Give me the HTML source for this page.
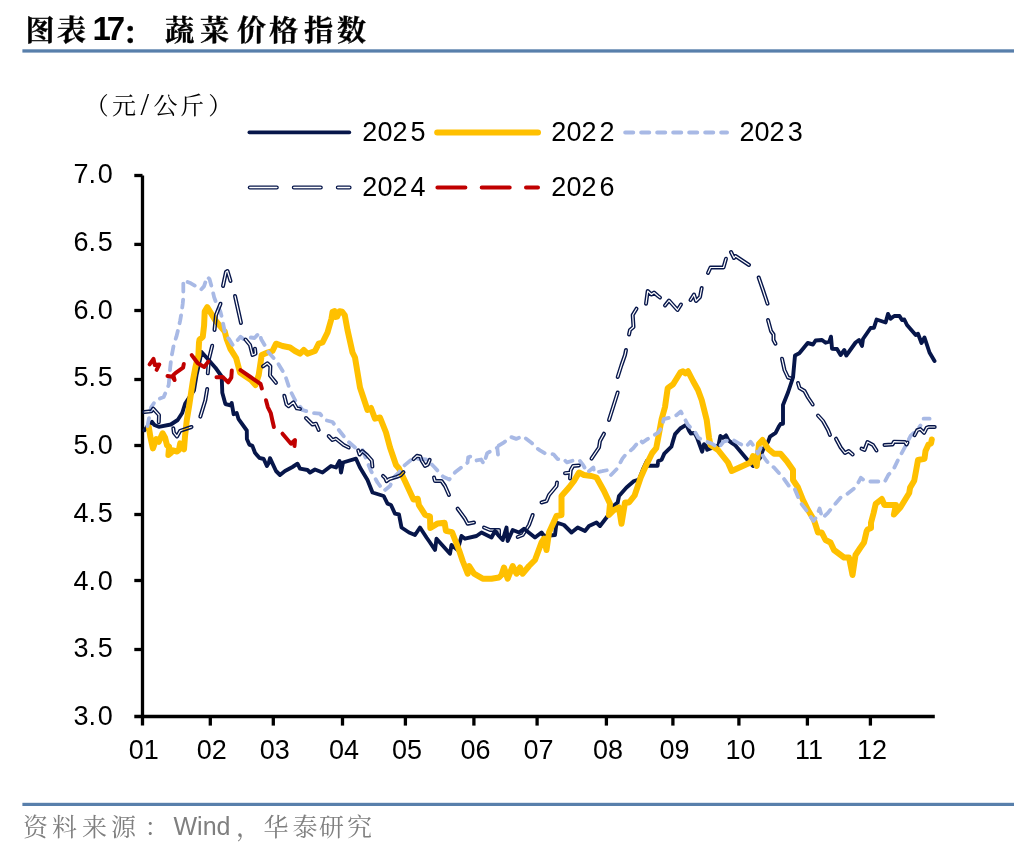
<!DOCTYPE html>
<html lang="zh"><head><meta charset="utf-8"><title>图表17： 蔬菜价格指数</title>
<style>html,body{margin:0;padding:0;background:#fff}svg{display:block;will-change:transform}.ax{font-family:"Liberation Sans", Arial, sans-serif;font-size:27px;fill:#000}.kai{font-family:"Liberation Serif", "Noto Serif CJK SC", serif;}.sb{font-family:"Liberation Sans", Arial, sans-serif;font-weight:700}.sr{font-family:"Liberation Sans", Arial, sans-serif;}</style></head><body>
<svg width="1036" height="852" viewBox="0 0 1036 852">
<rect width="1036" height="852" fill="#fff"/>
<g class="kai" font-weight="700" font-size="29" fill="#000" stroke="#000" stroke-width="0.35">
<text y="41" x="25.5 57">图表</text>
<text y="43.6" x="122.5" font-size="29">：</text>
<text y="41" x="165 200 237 269 304 337">蔬菜价格指数</text>
</g>
<text class="sb" font-size="33" fill="#000" y="40.4" x="92.6 106.8">17</text>
<rect x="22.4" y="49.3" width="991.6" height="3.3" fill="#587fab"/>
<text class="kai" font-size="24" fill="#000" y="114" x="84.7 112"><tspan>（元</tspan><tspan x="140.5" y="115" font-size="31">/</tspan><tspan x="153.5 180 208.3" y="114">公斤）</tspan></text>
<g fill="none" stroke-linecap="round" stroke-linejoin="round">
<path d="M249.3 132.4H349.4" stroke="#07164a" stroke-width="3.6"/>
<path d="M437.2 132.4H538" stroke="#ffc000" stroke-width="6"/>
<path d="M625.2 132.4H727" stroke="#a8b9e5" stroke-width="4" stroke-dasharray="8 8"/>
<path d="M249.8 187.6H349.6" stroke="#07164a" stroke-width="4" stroke-dasharray="27 17"/>
<path d="M249.8 187.6H349.6" stroke="#fff" stroke-width="1.5" stroke-dasharray="27 17"/>
<path d="M437.4 187.6H538" stroke="#c00000" stroke-width="4" stroke-dasharray="28 16.3"/>
</g>
<g class="ax">
<text y="140.8" x="362.3 377.5 392.5 410.6">2025</text>
<text y="140.8" x="551.2 566.4 581.4 599.5">2022</text>
<text y="140.8" x="739.4 754.6 769.6 787.7">2023</text>
<text y="196.1" x="362.3 377.5 392.5 410.6">2024</text>
<text y="196.1" x="551.2 566.4 581.4 599.5">2026</text>
</g>
<g stroke="#000" stroke-width="3.3" fill="none">
<path d="M142.5 175.5V725.6"/>
<path d="M134.3 716.5H934.8"/>
<path d="M134.3 175.5H142.5"/>
<path d="M134.3 244.4H142.5"/>
<path d="M134.3 310.5H142.5"/>
<path d="M134.3 379.5H142.5"/>
<path d="M134.3 445.5H142.5"/>
<path d="M134.3 514.5H142.5"/>
<path d="M134.3 580.5H142.5"/>
<path d="M134.3 649.5H142.5"/>
<path d="M210.3 716.5V725.6"/>
<path d="M273.3 716.5V725.6"/>
<path d="M342.5 716.5V725.6"/>
<path d="M405.4 716.5V725.6"/>
<path d="M473.9 716.5V725.6"/>
<path d="M537.1 716.5V725.6"/>
<path d="M606.4 716.5V725.6"/>
<path d="M672.9 716.5V725.6"/>
<path d="M738.9 716.5V725.6"/>
<path d="M807.4 716.5V725.6"/>
<path d="M870.4 716.5V725.6"/>
</g>
<g class="ax">
<text x="73.4 88.4 97.7" y="183.2">7.0</text>
<text x="73.4 88.4 97.7" y="250.9">6.5</text>
<text x="73.4 88.4 97.7" y="318.6">6.0</text>
<text x="73.4 88.4 97.7" y="386.4">5.5</text>
<text x="73.4 88.4 97.7" y="454.1">5.0</text>
<text x="73.4 88.4 97.7" y="521.8">4.5</text>
<text x="73.4 88.4 97.7" y="589.5">4.0</text>
<text x="73.4 88.4 97.7" y="657.2">3.5</text>
<text x="73.4 88.4 97.7" y="725.0">3.0</text>
</g>
<g class="ax" text-anchor="middle">
<text x="143.8" y="758.6">01</text>
<text x="211.8" y="758.6">02</text>
<text x="274.8" y="758.6">03</text>
<text x="344.0" y="758.6">04</text>
<text x="406.9" y="758.6">05</text>
<text x="475.4" y="758.6">06</text>
<text x="538.6" y="758.6">07</text>
<text x="607.9" y="758.6">08</text>
<text x="674.4" y="758.6">09</text>
<text x="740.4" y="758.6">10</text>
<text x="808.9" y="758.6">11</text>
<text x="871.9" y="758.6">12</text>
</g>
<g fill="none" stroke-linecap="round" stroke-linejoin="round">
<polyline points="144.4,430.3 147.0,426.8 152.0,421.8 154.4,425.0 158.8,426.8 170.8,424.5 177.7,420.0 182.2,413.0 185.2,403.5 194.0,390.3 196.5,375.2 199.0,364.0 201.5,352.0 207.8,359.0 215.4,367.7 221.7,376.5 222.3,392.8 225.4,404.0 230.4,405.4 231.7,403.0 233.6,414.2 236.7,413.0 238.6,419.2 246.8,430.5 246.9,439.0 249.3,444.6 252.4,445.9 255.0,452.8 259.3,457.8 263.7,459.0 266.9,466.0 268.8,462.8 270.0,458.2 276.0,471.0 280.0,475.0 285.0,471.0 292.5,467.0 297.5,463.7 300.0,468.7 307.5,470.0 310.0,472.5 315.0,469.5 322.5,472.5 331.0,466.0 336.0,467.5 339.5,461.0 341.0,472.5 343.0,462.5 356.0,458.7 360.0,467.5 367.5,480.0 372.5,492.5 383.7,496.0 387.5,503.7 391.0,505.0 395.0,513.7 399.0,514.5 401.5,527.5 409.0,532.5 415.0,535.0 420.0,527.5 426.5,537.5 430.0,542.5 435.0,550.0 436.5,538.7 450.0,553.7 451.5,545.0 457.7,550.0 461.5,536.0 465.0,538.7 476.5,536.0 481.5,532.5 491.5,537.5 495.0,531.0 499.0,536.0 502.7,540.0 506.5,527.5 507.7,541.0 512.7,530.0 519.0,532.5 524.0,528.7 535.0,537.5 541.5,532.5 544.0,536.0 555.0,535.0 556.5,522.5 564.0,525.0 571.5,532.5 577.7,527.5 585.0,531.0 589.0,526.0 596.5,522.5 600.0,526.0 607.7,516.0 611.5,507.5 617.7,502.5 619.0,496.0 626.5,487.5 634.0,481.0 639.0,479.5 643.5,468.0 646.8,461.1 648.1,465.8 657.6,465.8 658.2,461.1 661.6,459.7 664.3,453.6 671.4,446.7 673.2,440.4 675.1,434.1 680.2,428.5 686.4,424.7 688.9,430.4 690.8,433.5 694.6,432.9 697.1,437.9 702.1,451.7 704.0,444.2 706.5,446.7 707.2,449.8 718.5,445.4 720.4,436.0 722.9,437.9 726.0,435.4 728.5,440.4 731.7,442.9 735.4,445.4 748.0,460.5 753.0,466.0 760.0,458.0 763.0,449.8 768.1,441.7 770.0,436.6 775.6,432.9 778.8,426.6 780.5,424.0 783.0,423.7 783.0,405.0 788.0,392.5 793.0,377.5 795.0,355.5 799.3,353.3 803.0,348.7 807.7,343.0 813.0,344.5 815.6,340.5 822.0,340.0 825.6,342.7 829.3,341.7 831.0,336.7 832.0,348.7 837.0,349.0 840.6,355.0 844.3,350.0 846.3,355.5 855.6,342.5 859.0,340.0 862.0,346.0 863.0,339.0 870.6,328.0 874.0,327.7 876.6,319.5 885.6,322.5 888.0,314.0 890.6,318.7 894.3,316.0 899.5,316.0 902.0,320.0 904.3,319.5 907.0,325.0 915.7,335.0 918.0,333.7 921.5,343.0 924.5,337.5 929.5,352.5 934.5,361.0" stroke="#07164a" stroke-width="3.9"/>
<polyline points="148.8,427.0 150.3,436.5 152.9,448.4 156.3,439.0 158.8,441.7 162.6,433.3 165.1,437.7 167.0,445.3 169.1,446.8 168.4,455.0 170.9,453.0 172.9,450.3 177.1,451.5 178.9,450.0 180.2,443.4 182.1,446.5 184.0,449.3 185.0,436.5 186.8,420.1 189.2,405.4 191.1,392.8 193.0,380.3 195.3,367.7 198.4,355.1 199.0,342.6 199.5,339.8 202.8,336.7 204.1,325.4 204.7,311.6 207.2,307.2 215.4,320.4 224.8,331.7 226.7,339.2 230.5,349.2 236.1,358.0 240.0,372.5 245.0,376.0 251.0,380.0 255.5,385.0 258.7,375.0 261.7,355.0 267.5,352.5 272.5,351.0 276.0,343.7 282.5,346.0 290.0,347.5 295.0,351.0 300.0,353.7 303.7,350.0 307.5,353.7 315.0,351.0 318.7,343.7 322.5,342.5 327.5,332.5 331.5,318.5 332.6,311.8 334.5,311.2 335.2,317.0 337.2,316.6 339.5,311.2 342.2,311.8 344.8,315.2 347.5,330.0 352.5,352.5 355.0,357.5 360.0,387.5 365.0,402.5 367.5,410.0 371.0,408.0 375.0,418.7 380.0,417.5 386.0,432.5 390.0,447.5 396.0,465.0 399.0,468.5 406.1,483.5 413.5,499.5 417.8,498.8 418.9,505.1 425.0,514.6 430.0,516.6 430.3,528.0 437.8,523.4 444.6,522.7 445.9,530.8 452.0,532.2 459.0,550.0 462.7,561.0 467.7,573.7 469.0,566.0 474.0,573.7 482.7,578.7 491.5,578.7 499.0,577.5 501.5,575.0 504.0,567.5 507.7,578.7 512.7,566.0 516.5,573.7 520.0,567.5 522.7,573.7 529.0,566.0 535.0,560.0 541.5,542.5 544.0,538.7 546.5,550.0 549.0,532.5 556.5,516.0 561.5,515.0 561.5,496.0 569.0,487.5 574.0,481.0 579.0,472.5 584.0,475.0 591.5,476.0 596.5,477.5 604.0,491.0 610.0,503.7 609.0,515.0 614.0,510.0 619.0,507.5 621.5,523.7 625.0,502.5 629.0,502.5 634.6,495.5 640.7,477.5 646.8,463.8 652.2,453.0 656.2,448.2 658.9,434.1 661.6,419.2 665.0,407.0 667.7,388.1 673.1,384.3 680.5,372.3 683.0,371.3 685.5,373.3 688.0,371.3 693.0,381.0 698.0,390.0 701.7,400.0 706.7,420.0 709.0,437.5 710.5,445.0 718.0,450.0 728.0,462.5 731.7,471.0 750.5,462.5 753.0,456.0 756.7,466.0 759.0,443.7 762.5,440.0 768.0,448.7 774.0,453.7 780.5,453.7 786.7,461.0 793.0,470.0 793.0,480.0 798.0,487.5 803.0,500.0 808.0,510.0 814.0,520.0 818.0,532.5 821.7,532.5 825.5,540.0 830.5,542.5 834.0,550.0 844.0,557.5 849.0,557.5 852.5,575.0 855.5,555.0 860.5,547.5 864.0,542.5 866.7,531.0 867.6,529.5 871.0,528.0 871.0,522.7 873.6,513.0 875.7,503.8 881.8,499.0 884.5,505.1 895.9,505.1 893.9,514.6 900.5,507.2 909.2,493.0 910.1,487.6 914.2,480.8 916.2,470.0 918.0,460.0 924.5,458.7 925.5,451.0 928.5,444.5 931.0,443.5 931.8,439.5" stroke="#ffc000" stroke-width="6"/>
<polyline points="147.5,426.0 151.0,407.5 156.0,400.0 163.7,397.0 168.7,385.0 170.2,367.5 171.4,357.0 172.7,350.5 173.9,344.2 176.4,336.7 178.3,329.1 180.2,320.4 181.5,312.8 182.7,304.0 183.3,297.7 183.3,287.7 183.3,280.2 190.9,283.3 197.2,287.0 201.0,289.6 204.0,286.4 207.2,276.8 209.5,279.0 212.2,289.0 214.1,297.1 216.6,304.0 220.4,311.6 222.3,319.1 223.5,325.4 225.4,335.4 229.2,339.2 233.0,345.5 240.5,336.7 244.0,339.5 249.3,337.3 254.5,338.0 259.3,332.9 261.2,339.2 265.6,346.7 267.5,351.0 277.5,362.5 285.0,375.0 290.0,390.0 295.0,400.0 302.5,410.0 312.5,413.0 320.0,413.7 325.0,420.0 332.5,422.0 340.0,431.5 347.5,441.0 355.0,447.5 362.5,450.0 366.0,458.7 371.0,471.0 377.5,482.5 383.7,491.0 390.0,486.0 393.7,477.5 399.0,472.5 401.5,468.0 405.4,464.6 412.8,458.5 418.9,458.9 427.0,459.5 434.5,467.3 443.2,476.8 449.3,479.5 455.4,472.0 467.6,462.6 468.2,457.2 471.6,456.2 476.4,460.5 481.1,459.5 483.8,463.9 487.2,453.1 497.3,447.7 498.0,454.5 498.6,445.7 504.1,442.3 510.8,436.9 516.2,438.9 523.0,436.2 531.8,443.0 536.5,448.0 540.0,450.3 545.4,453.6 553.5,454.3 557.6,459.1 563.0,458.6 567.0,462.4 573.8,460.4 579.2,460.0 583.2,465.1 587.3,472.6 593.4,467.4 594.1,472.6 602.2,471.2 607.6,470.1 610.3,475.7 617.0,468.8 622.4,458.6 625.1,455.3 633.2,448.2 640.0,440.1 642.7,442.6 646.8,439.5 658.2,432.7 662.3,426.6 663.6,419.2 669.1,417.8 676.4,415.3 680.8,411.5 685.2,419.7 687.7,424.7 695.2,432.2 698.4,437.9 706.5,441.7 711.6,443.5 718.5,447.9 723.5,441.7 731.7,439.1 738.0,442.9 746.1,446.7 750.5,441.7 754.3,446.7 757.8,453.5 760.6,448.0 763.0,456.0 766.2,460.5 770.6,465.5 774.0,467.5 783.0,477.5 789.0,486.0 794.0,487.5 800.5,502.5 808.0,512.5 810.1,516.0 813.5,521.0 816.2,517.3 819.6,508.5 822.3,518.0 827.7,513.2 832.4,507.2 840.5,497.7 846.6,494.3 856.1,486.9 860.8,477.8 865.5,481.5 880.4,481.5 884.5,482.2 888.5,474.7 893.2,470.0 898.0,460.0 905.5,446.0 910.5,436.0 917.0,430.0 920.5,425.5" stroke="#a8b9e5" stroke-width="3.8" stroke-dasharray="8 8"/>
<path d="M923.6 418.7H929.6" stroke="#a8b9e5" stroke-width="3.8"/>
<mask id="dbl" maskUnits="userSpaceOnUse" x="0" y="0" width="1036" height="852"><rect width="1036" height="852" fill="#fff" stroke="none"/><g stroke="#000" stroke-width="1.2">
<polyline points="144.4,412.0 151.3,411.3 153.2,408.6 159.0,415.0 158.8,422.3"/>
<polyline points="173.3,428.3 173.9,432.7 177.0,436.5 180.2,430.8 191.5,427.0"/>
<polyline points="200.3,416.7 205.3,400.4 207.2,389.0"/>
<polyline points="207.8,373.3 209.0,358.9 212.2,345.7"/>
<polyline points="214.5,330.0 216.0,315.0 220.5,303.7"/>
<polyline points="223.0,286.0 226.0,272.0 227.5,271.0 230.5,281.0"/>
<polyline points="235.0,296.0 238.7,312.5 241.0,323.0"/>
<polyline points="245.5,339.5 250.0,345.0 252.5,355.0 255.5,353.7 255.0,348.7"/>
<polyline points="263.0,366.3 267.3,363.3 270.4,366.3 270.0,375.4 276.0,382.8"/>
<polyline points="284.3,395.8 286.5,404.5 288.6,406.3 293.4,402.4 296.9,408.4 300.0,408.9"/>
<polyline points="306.0,418.0 312.5,424.5 316.0,423.7 318.7,430.0"/>
<polyline points="328.7,436.0 332.5,440.0 336.0,438.7 343.7,445.0 348.7,447.5"/>
<polyline points="358.2,450.4 359.6,454.5 362.3,451.1 367.0,455.1 371.8,460.5 372.4,466.6"/>
<polyline points="383.0,475.8 385.3,478.1 386.6,481.1 389.3,479.1 396.8,476.8 400.8,475.1 403.5,472.2"/>
<polyline points="413.5,459.2 416.9,455.8 420.3,456.5 421.6,460.5 425.0,465.9 427.7,464.6 429.7,459.9"/>
<polyline points="434.0,477.5 435.0,481.0 441.5,481.0 445.0,486.0 449.0,495.0"/>
<polyline points="457.7,508.7 465.0,518.7 467.7,523.7 474.0,522.5"/>
<polyline points="484.0,527.5 490.0,530.0 499.0,530.0 499.0,535.0"/>
<polyline points="517.7,537.0 522.7,535.0 529.0,525.0 532.7,515.0"/>
<polyline points="541.5,502.5 546.5,501.0 549.0,495.0 556.5,486.0 557.0,482.5"/>
<polyline points="565.0,473.2 569.5,472.7"/>
<polyline points="570.0,478.4 570.8,469.9 573.1,465.9 578.9,465.5"/>
<polyline points="591.5,458.7 599.0,447.5 600.0,441.0 604.0,433.7"/>
<polyline points="609.0,420.0 617.7,392.5"/>
<polyline points="617.7,377.0 621.5,365.0 625.0,355.0 626.0,350.0"/>
<polyline points="629.0,334.5 630.0,330.0 633.5,327.0 632.7,315.0 636.5,308.7"/>
<polyline points="646.0,303.7 647.7,291.0 651.5,294.5 654.0,292.5 658.0,296.0 660.0,297.5"/>
<polyline points="665.0,305.5 669.0,300.5 677.5,310.0 681.0,304.5"/>
<polyline points="690.5,300.0 694.0,294.5 696.0,301.0 700.0,297.0 701.7,288.0"/>
<polyline points="708.0,273.0 710.5,267.5 723.5,267.5 726.0,258.7"/>
<polyline points="731.0,252.0 734.0,258.0 735.5,256.0 749.0,265.0"/>
<polyline points="758.7,277.5 763.0,290.0 767.5,303.7"/>
<polyline points="768.0,320.0 771.0,331.0 773.5,334.5 773.5,340.0 775.5,343.7"/>
<polyline points="782.0,358.7 784.5,370.0 788.0,377.5 792.0,378.7"/>
<polyline points="798.0,383.0 799.5,388.0 804.5,391.0 808.0,397.5 812.7,404.5"/>
<polyline points="818.0,415.5 823.0,421.0 828.0,430.0 830.0,435.0"/>
<polyline points="836.0,438.7 840.7,447.5 845.0,453.0 848.7,451.0 852.7,454.5"/>
<polyline points="861.5,448.7 864.5,450.0 867.5,442.0 873.0,445.0 876.5,450.5"/>
<polyline points="884.5,445.0 892.5,444.5 894.0,441.7 905.0,442.0 906.5,444.5 907.5,442.5"/>
<polyline points="914.6,435.2 917.2,430.2 920.3,429.1 924.1,432.9 926.6,427.9 928.5,427.0 934.7,427.0"/>
</g></mask>
<g mask="url(#dbl)" stroke="#07164a" stroke-width="4">
<polyline points="144.4,412.0 151.3,411.3 153.2,408.6 159.0,415.0 158.8,422.3"/>
<polyline points="173.3,428.3 173.9,432.7 177.0,436.5 180.2,430.8 191.5,427.0"/>
<polyline points="200.3,416.7 205.3,400.4 207.2,389.0"/>
<polyline points="207.8,373.3 209.0,358.9 212.2,345.7"/>
<polyline points="214.5,330.0 216.0,315.0 220.5,303.7"/>
<polyline points="223.0,286.0 226.0,272.0 227.5,271.0 230.5,281.0"/>
<polyline points="235.0,296.0 238.7,312.5 241.0,323.0"/>
<polyline points="245.5,339.5 250.0,345.0 252.5,355.0 255.5,353.7 255.0,348.7"/>
<polyline points="263.0,366.3 267.3,363.3 270.4,366.3 270.0,375.4 276.0,382.8"/>
<polyline points="284.3,395.8 286.5,404.5 288.6,406.3 293.4,402.4 296.9,408.4 300.0,408.9"/>
<polyline points="306.0,418.0 312.5,424.5 316.0,423.7 318.7,430.0"/>
<polyline points="328.7,436.0 332.5,440.0 336.0,438.7 343.7,445.0 348.7,447.5"/>
<polyline points="358.2,450.4 359.6,454.5 362.3,451.1 367.0,455.1 371.8,460.5 372.4,466.6"/>
<polyline points="383.0,475.8 385.3,478.1 386.6,481.1 389.3,479.1 396.8,476.8 400.8,475.1 403.5,472.2"/>
<polyline points="413.5,459.2 416.9,455.8 420.3,456.5 421.6,460.5 425.0,465.9 427.7,464.6 429.7,459.9"/>
<polyline points="434.0,477.5 435.0,481.0 441.5,481.0 445.0,486.0 449.0,495.0"/>
<polyline points="457.7,508.7 465.0,518.7 467.7,523.7 474.0,522.5"/>
<polyline points="484.0,527.5 490.0,530.0 499.0,530.0 499.0,535.0"/>
<polyline points="517.7,537.0 522.7,535.0 529.0,525.0 532.7,515.0"/>
<polyline points="541.5,502.5 546.5,501.0 549.0,495.0 556.5,486.0 557.0,482.5"/>
<polyline points="565.0,473.2 569.5,472.7"/>
<polyline points="570.0,478.4 570.8,469.9 573.1,465.9 578.9,465.5"/>
<polyline points="591.5,458.7 599.0,447.5 600.0,441.0 604.0,433.7"/>
<polyline points="609.0,420.0 617.7,392.5"/>
<polyline points="617.7,377.0 621.5,365.0 625.0,355.0 626.0,350.0"/>
<polyline points="629.0,334.5 630.0,330.0 633.5,327.0 632.7,315.0 636.5,308.7"/>
<polyline points="646.0,303.7 647.7,291.0 651.5,294.5 654.0,292.5 658.0,296.0 660.0,297.5"/>
<polyline points="665.0,305.5 669.0,300.5 677.5,310.0 681.0,304.5"/>
<polyline points="690.5,300.0 694.0,294.5 696.0,301.0 700.0,297.0 701.7,288.0"/>
<polyline points="708.0,273.0 710.5,267.5 723.5,267.5 726.0,258.7"/>
<polyline points="731.0,252.0 734.0,258.0 735.5,256.0 749.0,265.0"/>
<polyline points="758.7,277.5 763.0,290.0 767.5,303.7"/>
<polyline points="768.0,320.0 771.0,331.0 773.5,334.5 773.5,340.0 775.5,343.7"/>
<polyline points="782.0,358.7 784.5,370.0 788.0,377.5 792.0,378.7"/>
<polyline points="798.0,383.0 799.5,388.0 804.5,391.0 808.0,397.5 812.7,404.5"/>
<polyline points="818.0,415.5 823.0,421.0 828.0,430.0 830.0,435.0"/>
<polyline points="836.0,438.7 840.7,447.5 845.0,453.0 848.7,451.0 852.7,454.5"/>
<polyline points="861.5,448.7 864.5,450.0 867.5,442.0 873.0,445.0 876.5,450.5"/>
<polyline points="884.5,445.0 892.5,444.5 894.0,441.7 905.0,442.0 906.5,444.5 907.5,442.5"/>
<polyline points="914.6,435.2 917.2,430.2 920.3,429.1 924.1,432.9 926.6,427.9 928.5,427.0 934.7,427.0"/>
</g>
<polyline points="149.6,364.3 153.5,358.9 154.8,365.0 159.3,364.4 156.6,369.8" stroke="#c00000" stroke-width="4"/>
<polyline points="167.5,376.0 172.3,376.7 174.6,380.0 173.3,375.2 175.7,372.8 183.1,367.7 183.8,364.0" stroke="#c00000" stroke-width="4"/>
<polyline points="191.7,355.1 197.8,363.3 204.2,367.0 208.3,361.6" stroke="#c00000" stroke-width="4"/>
<polyline points="216.5,377.2 222.6,376.9 228.2,382.4 231.3,377.6 231.8,370.6" stroke="#c00000" stroke-width="4"/>
<polyline points="240.5,370.2 250.5,377.0 260.6,384.0 261.8,388.4" stroke="#c00000" stroke-width="4"/>
<polyline points="266.0,400.3 267.8,407.1 270.8,413.2 272.5,421.0 273.9,427.0" stroke="#c00000" stroke-width="4"/>
<polyline points="282.5,433.7 291.0,443.7 295.0,440.0 294.5,446.0" stroke="#c00000" stroke-width="4"/>
</g>
<rect x="22.4" y="802.8" width="991.6" height="3.2" fill="#587fab"/>
<g fill="#7f7f7f" font-size="25">
<text class="kai" y="836" x="23 52 82 111 144.5">资料来源：</text>
<text class="sr" y="835.2" x="173.5">Wind</text>
<text class="kai" y="836" x="236 263.5 292.5 319 347">，华泰研究</text>
</g>
</svg></body></html>
